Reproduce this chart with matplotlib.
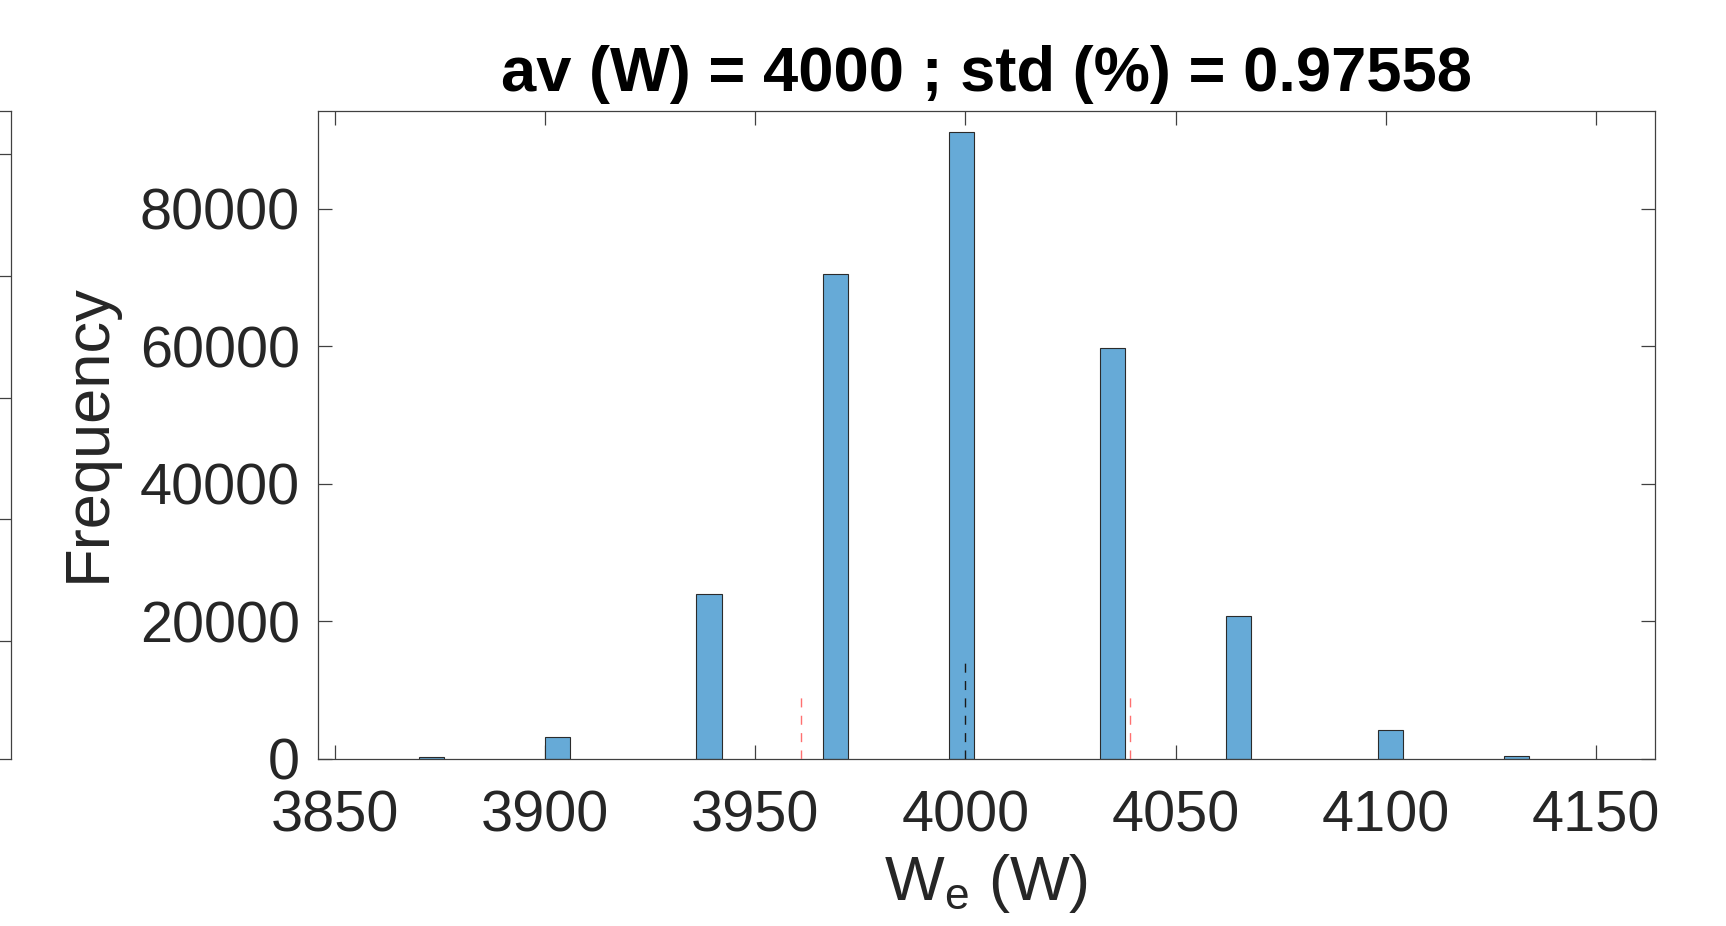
import matplotlib
matplotlib.use("Agg")
import matplotlib.pyplot as plt

plt.rcParams['font.family'] = ['Liberation Sans', 'DejaVu Sans']
plt.rcParams['mathtext.fontset'] = 'custom'
plt.rcParams['mathtext.rm'] = 'Liberation Sans'
plt.rcParams['mathtext.it'] = 'Liberation Sans'

# ---- data ----
bin_centers = [3873, 3903, 3939, 3969, 3999, 4035, 4065, 4101, 4131]
bin_counts = [300, 3250, 24000, 70500, 91200, 59800, 20800, 4150, 500]
bin_width = 6
mean_value = 4000
std_percent = 0.97558
mean_line_height = 14150
std_line_height = 9060
x_ticks = [3850, 3900, 3950, 4000, 4050, 4100, 4150]
y_ticks = [0, 20000, 40000, 60000, 80000]
left_panel_ticks = [1, 2, 3, 4, 5]

W, H = 1726, 926
fig = plt.figure(figsize=(W / 100, H / 100), dpi=100)

axc = '#404040'
txtc = '#262626'

# main axes
ax = fig.add_axes([318 / W, (H - 759) / H, 1337 / W, 648 / H])
ax.bar(bin_centers, bin_counts, width=bin_width, color='#66AAD7',
       edgecolor='#2b2b2b', linewidth=0.8, zorder=2)

std_abs = mean_value * std_percent / 100
ax.plot([mean_value, mean_value], [0, mean_line_height], color='#1a1a1a',
        lw=1.0, dashes=[6.5, 6], zorder=3)
for xs in (mean_value - std_abs, mean_value + std_abs):
    ax.plot([xs, xs], [0, std_line_height], color='#FF7070',
            lw=1.0, dashes=[6.5, 6], zorder=3)

ax.set_xlim(3846, 4164)
ax.set_ylim(0, 94250)
ax.set_xticks(x_ticks)
ax.set_yticks(y_ticks)
ax.set_xticklabels([str(v) for v in x_ticks])
ax.set_yticklabels([str(v) for v in y_ticks])
ax.tick_params(direction='in', length=10, width=0.9, color=axc,
               labelsize=41.5, labelcolor=txtc, top=True, right=True)
ax.tick_params(axis='x', pad=22)
ax.tick_params(axis='y', pad=13)
for s in ax.spines.values():
    s.set_color(axc)
    s.set_linewidth(0.9)

ax.set_title('av (W) = %d ; std (%%) = %s' % (mean_value, std_percent),
             fontsize=45.5, fontweight='bold', color='black', pad=0, y=1.0313)
ax.set_xlabel(r'$\mathregular{W_e}$ (W)', fontsize=45.5, color=txtc)
ax.xaxis.set_label_coords(0.5, -0.143)
ax.set_ylabel('Frequency', fontsize=45.5, color=txtc)
ax.yaxis.set_label_coords(-0.150, 0.503)

# partially visible neighbouring axes at the left edge
ax2 = fig.add_axes([-0.5, (H - 759) / H, 0.5 + 11 / W, 648 / H])
ax2.set_ylim(0.03, 5.355)
ax2.set_xlim(0, 1)
ax2.set_yticks(left_panel_ticks)
ax2.set_xticks([])
ax2.tick_params(direction='in', length=10, width=0.9, color=axc,
                left=False, right=True, labelleft=False)
for s in ax2.spines.values():
    s.set_color(axc)
    s.set_linewidth(0.9)

fig.savefig('out.png', dpi=100)
